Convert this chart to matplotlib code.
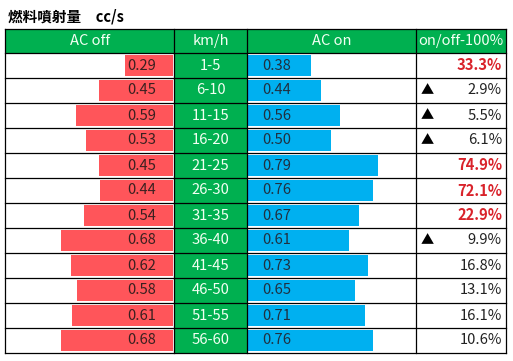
import matplotlib.pyplot as plt
from matplotlib.patches import Rectangle

plt.rcParams["font.family"] = ["Noto Sans CJK JP", "DejaVu Sans"]

title = "燃料噴射量　cc/s"
headers = ["AC off", "km/h", "AC on", "on/off-100%"]
speeds = ["1-5", "6-10", "11-15", "16-20", "21-25", "26-30",
          "31-35", "36-40", "41-45", "46-50", "51-55", "56-60"]
ac_off = [0.29, 0.45, 0.59, 0.53, 0.45, 0.44, 0.54, 0.68, 0.62, 0.58, 0.61, 0.68]
ac_on = [0.38, 0.44, 0.56, 0.50, 0.79, 0.76, 0.67, 0.61, 0.73, 0.65, 0.71, 0.76]
ratio = [33.3, 2.9, 5.5, 6.1, 74.9, 72.1, 22.9, 9.9, 16.8, 13.1, 16.1, 10.6]
triangle_rows = [1, 2, 3, 7]

GREEN = "#00B050"
RED_BAR = "#FF555A"
BLUE_BAR = "#00B0F0"
RED_TXT = "#D9232B"

W, H = 513, 361
fig = plt.figure(figsize=(W / 100, H / 100), dpi=100)
ax = fig.add_axes([0, 0, 1, 1])
ax.set_xlim(0, W)
ax.set_ylim(H, 0)
ax.axis("off")

# column edges and row geometry (pixels)
cols = [5, 174, 247, 416, 506]
top, head_bot, row_h = 29, 53, 25
n = len(speeds)
bottom = head_bot + n * row_h


def fx(px):
    return px / W


def fy(py):
    return 1 - py / H


# green header and speed column
ax.add_patch(Rectangle((cols[0], top), cols[-1] - cols[0], head_bot - top, color=GREEN, lw=0))
ax.add_patch(Rectangle((cols[1], head_bot), cols[2] - cols[1], n * row_h, color=GREEN, lw=0))

# data bars, one axes per column, scaled in value units
bar_h = 0.84
scale = 165
ax_off = fig.add_axes([fx(173 - scale), fy(bottom), fx(scale), (bottom - head_bot) / H])
ax_off.barh([i + 0.5 for i in range(n)], ac_off, height=bar_h, color=RED_BAR, lw=0)
ax_off.set_xlim(1.0, 0)
ax_off.set_ylim(n, 0)
ax_off.axis("off")

ax_on = fig.add_axes([fx(248), fy(bottom), fx(scale), (bottom - head_bot) / H])
ax_on.barh([i + 0.5 for i in range(n)], ac_on, height=bar_h, color=BLUE_BAR, lw=0)
ax_on.set_xlim(0, 1.0)
ax_on.set_ylim(n, 0)
ax_on.axis("off")

# grid lines on top
grid = fig.add_axes([0, 0, 1, 1])
grid.set_xlim(0, W)
grid.set_ylim(H, 0)
grid.axis("off")
for x in cols:
    grid.plot([x, x], [top, bottom], color="black", lw=0.9)
for y in [top, head_bot] + [head_bot + (i + 1) * row_h for i in range(n)]:
    grid.plot([cols[0], cols[-1]], [y, y], color="black", lw=0.9)

grid.text(8, 16, title, fontsize=10.5, fontweight="bold", va="center", ha="left")

fs = 10.6
hy = (top + head_bot) / 2
for i, h in enumerate(headers):
    grid.text((cols[i] + cols[i + 1]) / 2, hy, h, color="#F2FFF2", fontsize=fs,
              ha="center", va="center")

for i in range(n):
    cy = head_bot + i * row_h + row_h / 2
    grid.text(156, cy, f"{ac_off[i]:.2f}", color="#3A2020", fontsize=fs, ha="right", va="center")
    grid.text((cols[1] + cols[2]) / 2, cy, speeds[i], color="#F2FFF2", fontsize=fs,
              ha="center", va="center")
    grid.text(262, cy, f"{ac_on[i]:.2f}", color="#203040", fontsize=fs, ha="left", va="center")
    if ratio[i] > 20:
        grid.text(502, cy, f"{ratio[i]:.1f}%", color=RED_TXT, fontsize=fs,
                  fontweight="bold", ha="right", va="center")
    else:
        grid.text(502, cy, f"{ratio[i]:.1f}%", color="#222222", fontsize=fs,
                  ha="right", va="center")
    if i in triangle_rows:
        grid.text(427, cy, "▲", color="black", fontsize=9.5, ha="center", va="center")

fig.savefig("out.png", dpi=100)
